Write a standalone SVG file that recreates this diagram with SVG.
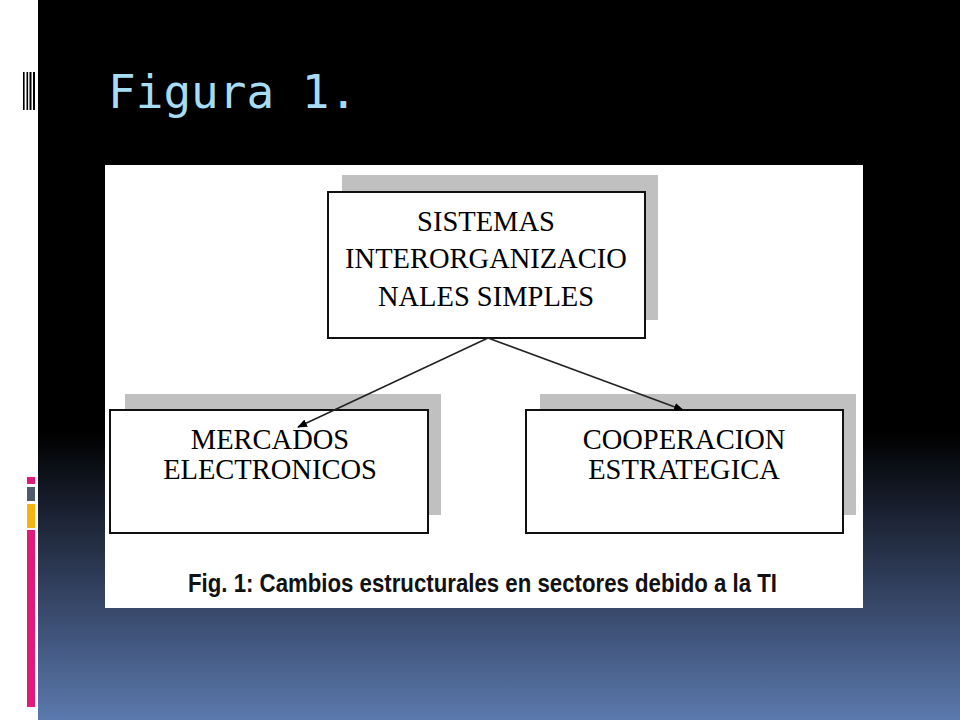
<svg xmlns="http://www.w3.org/2000/svg" width="960" height="720" viewBox="0 0 960 720">
<defs>
<linearGradient id="bg" x1="0" y1="0" x2="0" y2="720" gradientUnits="userSpaceOnUse">
<stop offset="0" stop-color="#000000"/>
<stop offset="0.6" stop-color="#000000"/>
<stop offset="0.8" stop-color="#2e3b57"/>
<stop offset="1" stop-color="#5b79ad"/>
</linearGradient>
<marker id="arr" viewBox="0 0 10 10" refX="9" refY="5" markerWidth="10" markerHeight="10" markerUnits="userSpaceOnUse" orient="auto">
<path d="M0,1 L10,5 L0,9 Z" fill="#000"/>
</marker>
<style>
.box{fill:#fff;stroke:#111;stroke-width:2}
.shadow{fill:#c0c0c0}
.node{font-family:"Liberation Serif","Times New Roman",serif;font-size:28.5px;fill:#000;text-anchor:middle}
.conn{stroke:#222;stroke-width:1.6;fill:none}
</style>
</defs>
<rect x="0" y="0" width="960" height="720" fill="#fff"/>
<rect x="38" y="0" width="922" height="720" fill="url(#bg)"/>
<g id="deco">
<rect x="23" y="72" width="1.6" height="38" fill="#000"/>
<rect x="26.5" y="72" width="1.6" height="38" fill="#000"/>
<rect x="29.5" y="72" width="2" height="38" fill="#000"/>
<rect x="33" y="72" width="2" height="38" fill="#000"/>
<rect x="27" y="477" width="8" height="7" fill="#e0197a"/>
<rect x="27" y="487" width="8" height="14" fill="#4f5a6e"/>
<rect x="27" y="504" width="8" height="24" fill="#f6b312"/>
<rect x="27" y="530" width="8" height="177" fill="#e0197a"/>
</g>
<text id="title" x="108" y="108" font-family="'DejaVu Sans Mono','Liberation Mono',monospace" font-size="46" fill="#a8dcf2">Figura 1.</text>
<rect x="105" y="165" width="758" height="443" fill="#fff"/>
<g id="node-top">
<rect class="shadow" x="342" y="175" width="316" height="145"/>
<rect class="box" x="328" y="192" width="317" height="146"/>
<text class="node" x="486" y="231">SISTEMAS</text>
<text class="node" x="486" y="268">INTERORGANIZACIO</text>
<text class="node" x="486" y="306">NALES SIMPLES</text>
</g>
<g id="node-left">
<rect class="shadow" x="125" y="394" width="316" height="121"/>
<rect class="box" x="110" y="410" width="318" height="123"/>
<text class="node" x="270" y="449">MERCADOS</text>
<text class="node" x="270" y="479">ELECTRONICOS</text>
</g>
<g id="node-right">
<rect class="shadow" x="540" y="394" width="316" height="121"/>
<rect class="box" x="526" y="410" width="317" height="123"/>
<text class="node" x="684" y="449">COOPERACION</text>
<text class="node" x="684" y="479">ESTRATEGICA</text>
</g>
<g id="connectors">
<line class="conn" x1="488" y1="338" x2="298" y2="427" marker-end="url(#arr)"/>
<line class="conn" x1="488" y1="338" x2="683" y2="410" marker-end="url(#arr)"/>
</g>
<text id="caption" x="188" y="592" font-family="'Liberation Sans',Arial,sans-serif" font-weight="bold" font-size="26" fill="#111" textLength="589" lengthAdjust="spacingAndGlyphs">Fig. 1: Cambios estructurales en sectores debido a la TI</text>
</svg>
